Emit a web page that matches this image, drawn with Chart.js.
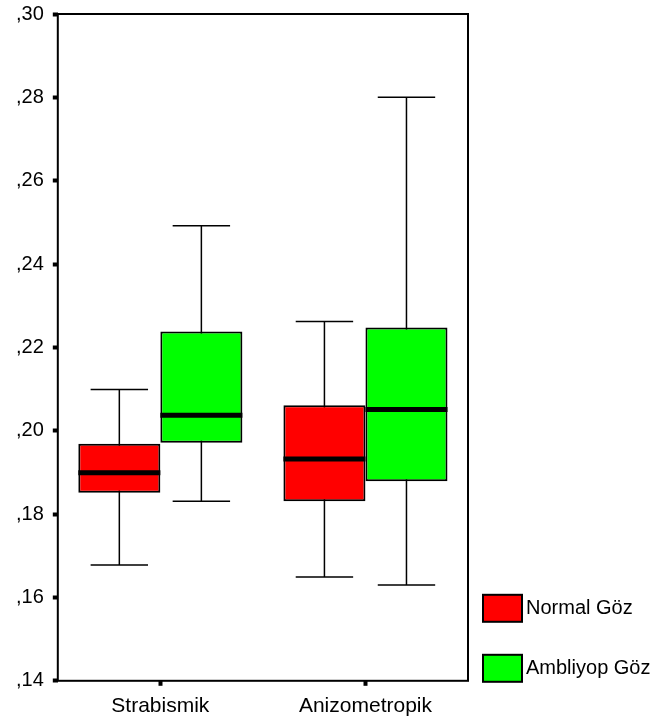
<!DOCTYPE html>
<html>
<head>
<meta charset="utf-8">
<script src="https://cdn.jsdelivr.net/npm/chart.js@4"></script>
<style>
  html, body { margin: 0; padding: 0; background: #fff; overflow: hidden; }
  #wrap { position: relative; top: -7px; width: 663px; height: 731px; }
</style>
</head>
<body>
<div id="wrap"><canvas id="myChart"></canvas></div>
<script>
const categories = ['Strabismik', 'Anizometropik'];
const seriesNames = ['Normal Göz', 'Ambliyop Göz'];

// Normal Göz (red)
const normalMin = [0.1678, 0.1649];
const normalQ1 = [0.1851, 0.1831];
const normalMedian = [0.1899, 0.1932];
const normalQ3 = [0.1969, 0.2061];
const normalMax = [0.2099, 0.2262];

// Ambliyop Göz (green)
const ambMin = [0.1831, 0.1630];
const ambQ1 = [0.1971, 0.1879];
const ambMedian = [0.2037, 0.2051];
const ambQ3 = [0.2238, 0.2248];
const ambMax = [0.2492, 0.2800];

const yTickValues = [0.14, 0.16, 0.18, 0.20, 0.22, 0.24, 0.26, 0.28, 0.30];

const FONT = "'Liberation Sans', Arial, sans-serif";

const stats = [
    { min: normalMin, med: normalMedian, max: normalMax },
    { min: ambMin, med: ambMedian, max: ambMax }
];

// whiskers + caps behind the boxes, medians on top
const boxPlot = {
    id: 'boxPlot',
    beforeDatasetsDraw(chart) {
        const ctx = chart.ctx, y = chart.scales.y;
        ctx.save();
        ctx.strokeStyle = '#000';
        ctx.lineWidth = 1.5;
        chart.data.datasets.forEach((ds, i) => {
            chart.getDatasetMeta(i).data.forEach((bar, j) => {
                const x = bar.x, half = bar.width * 0.35;
                const yMin = y.getPixelForValue(stats[i].min[j]);
                const yMax = y.getPixelForValue(stats[i].max[j]);
                ctx.beginPath();
                ctx.moveTo(x, yMin); ctx.lineTo(x, yMax);
                ctx.moveTo(x - half, yMin); ctx.lineTo(x + half, yMin);
                ctx.moveTo(x - half, yMax); ctx.lineTo(x + half, yMax);
                ctx.stroke();
            });
        });
        ctx.restore();
    },
    afterDatasetsDraw(chart) {
        const ctx = chart.ctx, y = chart.scales.y;
        ctx.save();
        ctx.strokeStyle = '#000';
        ctx.lineWidth = 5;
        chart.data.datasets.forEach((ds, i) => {
            chart.getDatasetMeta(i).data.forEach((bar, j) => {
                const ym = y.getPixelForValue(stats[i].med[j]);
                ctx.beginPath();
                ctx.moveTo(bar.x - bar.width / 2, ym);
                ctx.lineTo(bar.x + bar.width / 2, ym);
                ctx.stroke();
            });
        });
        ctx.restore();
    },
    afterDraw(chart) {
        const ctx = chart.ctx, a = chart.chartArea;
        ctx.save();
        // frame
        ctx.strokeStyle = '#000';
        ctx.lineWidth = 2;
        ctx.strokeRect(a.left, a.top, a.right - a.left, a.bottom - a.top);
        // legend
        ctx.font = '20px ' + FONT;
        ctx.textBaseline = 'middle';
        const tops = [a.bottom - 86, a.bottom - 26];
        chart.data.datasets.forEach((ds, i) => {
            const bx = a.right + 15, by = tops[i];
            ctx.fillStyle = ds.backgroundColor;
            ctx.fillRect(bx, by, 39, 27);
            ctx.lineWidth = 2;
            ctx.strokeStyle = '#000';
            ctx.strokeRect(bx, by, 39, 27);
            ctx.fillStyle = '#000';
            ctx.fillText(ds.label, bx + 43, by + 14);
        });
        ctx.restore();
    }
};

const data = {
    labels: categories,
    datasets: [
        {
            label: seriesNames[0],
            data: normalQ1.map((q, i) => [q, normalQ3[i]]),
            backgroundColor: '#ff0000',
            borderColor: '#000',
            borderWidth: 2,
            borderSkipped: false
        },
        {
            label: seriesNames[1],
            data: ambQ1.map((q, i) => [q, ambQ3[i]]),
            backgroundColor: '#00ff00',
            borderColor: '#000',
            borderWidth: 2,
            borderSkipped: false
        }
    ]
};

const config = {
    type: 'bar',
    data,
    options: {
        responsive: true,
        maintainAspectRatio: false,
        animation: false,
        categoryPercentage: 0.8,
        barPercentage: 1.0,
        layout: { padding: { left: 7, right: 195, top: 0, bottom: -3 } },
        plugins: {
            legend: { display: false },
            tooltip: { enabled: false }
        },
        scales: {
            x: {
                border: { display: false },
                grid: {
                    offset: false,
                    drawOnChartArea: false,
                    drawTicks: true,
                    tickLength: 5,
                    tickWidth: 4,
                    tickColor: '#000'
                },
                ticks: { color: '#000', padding: 8, font: { family: FONT, size: 21 } }
            },
            y: {
                min: 0.14,
                max: 0.30,
                afterBuildTicks: (axis) => {
                    axis.ticks = yTickValues.map(v => ({ value: v }));
                },
                border: { display: false },
                grid: {
                    drawOnChartArea: false,
                    drawTicks: true,
                    tickLength: 5,
                    tickWidth: 4,
                    tickColor: '#000'
                },
                ticks: {
                    color: '#000',
                    padding: 9,
                    font: { family: FONT, size: 20 },
                    callback: (v) => ',' + Math.round(v * 100)
                }
            }
        }
    },
    plugins: [boxPlot]
};

const myChart = new Chart(document.getElementById('myChart'), config);
</script>
</body>
</html>
